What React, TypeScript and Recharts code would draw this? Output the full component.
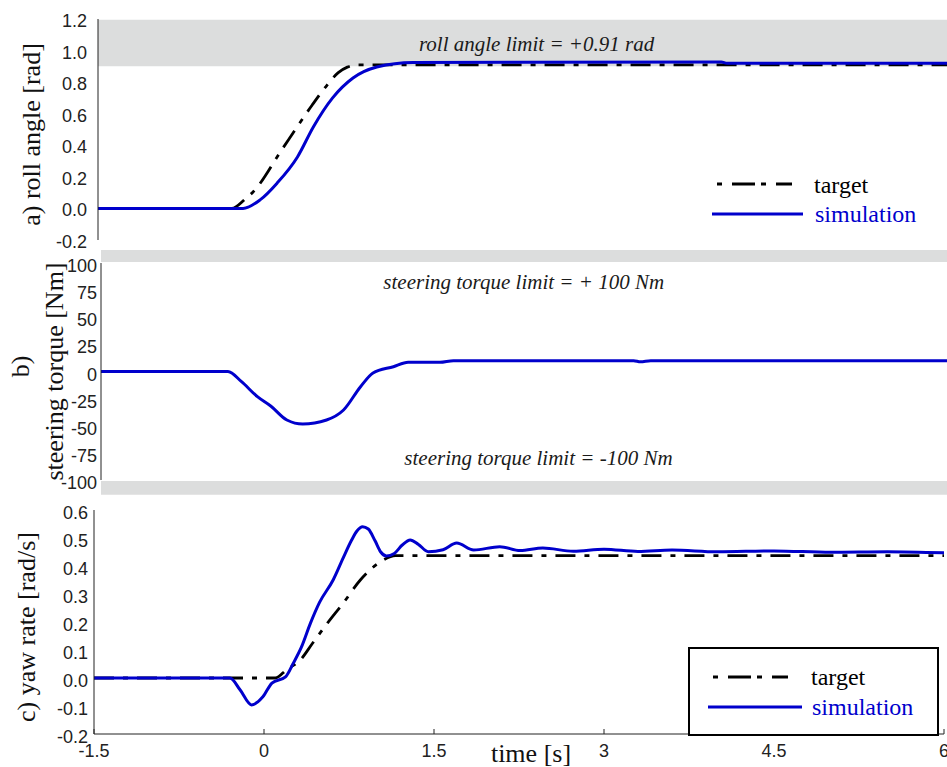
import { LineChart, Line, XAxis, YAxis, ReferenceArea, ReferenceDot } from 'recharts';

// time axis [s]
const timeTicks = [-1.5, 0, 1.5, 3, 4.5, 6];

// a) roll angle [rad]
const rollTicks = [-0.2, 0, 0.2, 0.4, 0.6, 0.8, 1.0, 1.2];
const rollTarget: [number, number][] = [
  [-1.5, 0], [-0.32, 0], [-0.2, 0.06], [-0.13, 0.106], [0.12, 0.37], [0.26, 0.52],
  [0.39, 0.655], [0.52, 0.78], [0.62, 0.86], [0.7, 0.895], [0.8, 0.91], [6, 0.91],
];
const rollSim: [number, number][] = [
  [-1.5, 0], [-0.22, 0], [-0.07, 0.054], [0.08, 0.16], [0.26, 0.326], [0.4, 0.516],
  [0.57, 0.7], [0.75, 0.826], [0.96, 0.896], [1.28, 0.925], [4.0, 0.928], [4.05, 0.92], [6, 0.92],
];

// b) steering torque [Nm]
const torqueTicks = [-100, -75, -50, -25, 0, 25, 50, 75, 100];
const torqueSim: [number, number][] = [
  [-1.5, 0], [-0.38, 0], [-0.26, -9.4], [-0.12, -23.2], [0.0, -32], [0.14, -44.7],
  [0.28, -48.4], [0.49, -44.7], [0.64, -35.5], [0.79, -14], [0.9, -1.4], [1.08, 4.4],
  [1.21, 8.5], [1.49, 8.5], [1.61, 10], [3.2, 10], [3.26, 9], [3.35, 10], [6, 10],
];

// c) yaw rate [rad/s]
const yawTicks = [-0.2, -0.1, 0, 0.1, 0.2, 0.3, 0.4, 0.5, 0.6];
const yawTarget: [number, number][] = [
  [-1.5, 0], [0.1, 0], [0.2, 0.03], [0.32, 0.064], [0.43, 0.125], [0.56, 0.196],
  [0.7, 0.268], [0.85, 0.35], [1.04, 0.418], [1.16, 0.437], [6, 0.437],
];
const yawSim: [number, number][] = [
  [-1.5, 0], [-0.3, 0], [-0.21, -0.043], [-0.11, -0.096], [-0.01, -0.067], [0.07, -0.018],
  [0.19, 0.004], [0.26, 0.054], [0.33, 0.11], [0.41, 0.196], [0.49, 0.27], [0.61, 0.35],
  [0.7, 0.43], [0.77, 0.49], [0.82, 0.525], [0.87, 0.54], [0.92, 0.532], [0.98, 0.49],
  [1.03, 0.45], [1.08, 0.436], [1.15, 0.445], [1.22, 0.475], [1.29, 0.493], [1.36, 0.478],
  [1.45, 0.451], [1.58, 0.458], [1.7, 0.482], [1.85, 0.457], [2.08, 0.469], [2.26, 0.455],
  [2.46, 0.464], [2.73, 0.453], [3.0, 0.46], [3.3, 0.452], [3.6, 0.457], [4.0, 0.451],
  [4.5, 0.454], [5.0, 0.449], [5.5, 0.451], [6, 0.447],
];

const rows = (pts: [number, number][]) => pts.map(([t, v]) => ({ t, v }));

const SANS = "'Liberation Sans', Arial, sans-serif";
const SERIF = "'Liberation Serif', 'Times New Roman', serif";
const INK = '#222';
const BLUE = '#0000CC';
const GREY = '#dcdddd';
const DASHDOT = '20 9 5 9';

const leftTick = (gap: number, dy: number, digits: number) => (p: any) => (
  <text x={p.x - gap} y={p.y + dy} textAnchor="end" fontFamily={SANS} fontSize={18} fill={INK}>
    {Number(p.payload.value).toFixed(digits)}
  </text>
);
const rightTick = (p: any) => <line x1={p.x} x2={p.x - 5} y1={p.y} y2={p.y} stroke={INK} />;
const topTick = (p: any) => <line x1={p.x} x2={p.x} y1={p.y} y2={p.y + 5} stroke={INK} />;
const bottomTick = (p: any) => <line x1={p.x} x2={p.x} y1={p.y} y2={p.y - 5} stroke={INK} />;
const bottomTickLabel = (p: any) => (
  <g>
    <line x1={p.x} x2={p.x} y1={p.y} y2={p.y - 5} stroke={INK} />
    <text x={p.x} y={p.y + 23} textAnchor="middle" fontFamily={SANS} fontSize={18} fill={INK}>
      {p.payload.value}
    </text>
  </g>
);

const annot = (text: string) => (p: any) => {
  const vb = p.viewBox || {};
  const x = (vb.x ?? 0) + (vb.width ?? 0) / 2;
  const y = (vb.y ?? 0) + (vb.height ?? 0) / 2;
  return (
    <text x={x} y={y} textAnchor="middle" fontFamily={SERIF} fontStyle="italic" fontSize={21} fill="#1a1a1a">
      {text}
    </text>
  );
};

const yTitle = (lines: { text: string; dx: number; dy: number }[]) => (p: any) => {
  const vb = p.viewBox || {};
  const cy = (vb.y ?? 0) + (vb.height ?? 0) / 2;
  return (
    <g>
      {lines.map((l) => (
        <text
          key={l.text}
          x={l.dx}
          y={cy + l.dy}
          transform={`rotate(-90 ${l.dx} ${cy + l.dy})`}
          textAnchor="middle"
          fontFamily={SERIF}
          fontSize={26}
          fill="#111"
        >
          {l.text}
        </text>
      ))}
    </g>
  );
};

function SeriesKey({ left, top, width, height, boxed, dash, solid, txt }: any) {
  return (
    <svg width={width} height={height} style={{ position: 'absolute', left, top }}>
      <rect
        x={boxed ? 1 : 0}
        y={boxed ? 1 : 0}
        width={boxed ? width - 2 : width}
        height={boxed ? height - 2 : height}
        fill="#fff"
        stroke={boxed ? '#000' : 'none'}
        strokeWidth={2}
      />
      <line x1={dash[0]} x2={dash[1]} y1={dash[2]} y2={dash[2]} stroke="#000" strokeWidth={3} strokeDasharray="5 10 23 6" />
      <line x1={solid[0]} x2={solid[1]} y1={solid[2]} y2={solid[2]} stroke={BLUE} strokeWidth={3} />
      <text x={txt[0]} y={txt[1]} fontFamily={SERIF} fontSize={24} fill="#000">target</text>
      <text x={txt[0] + 1} y={txt[2]} fontFamily={SERIF} fontSize={24} fill={BLUE}>simulation</text>
    </svg>
  );
}

export default function App() {
  return (
    <div style={{ position: 'absolute', left: 0, top: 0, width: 947, height: 767, overflow: 'hidden', background: '#fff' }}>
      {/* a) roll angle */}
      <div style={{ position: 'absolute', left: 0, top: 0 }}>
        <LineChart width={960} height={262} margin={{ top: 19, right: 12, bottom: 22, left: 0 }}>
          <XAxis dataKey="t" type="number" domain={[-1.5, 6]} ticks={timeTicks} interval={0} allowDataOverflow height={0} tickSize={0} tickMargin={0} tickLine={false} axisLine={{ stroke: INK }} tick={bottomTick} />
          <XAxis xAxisId="top" orientation="top" dataKey="t" type="number" domain={[-1.5, 6]} ticks={timeTicks} interval={0} allowDataOverflow height={0} tickSize={0} tickMargin={0} tickLine={false} axisLine={{ stroke: INK }} tick={topTick} />
          <YAxis type="number" domain={[-0.2, 1.2]} ticks={rollTicks} interval={0} allowDataOverflow width={98} tickSize={0} tickMargin={0} tickLine={false} axisLine={{ stroke: INK }} tick={leftTick(11, 8, 1)}
            label={{ content: yTitle([{ text: 'a) roll angle [rad]', dx: 40, dy: 5 }]) }} />
          <YAxis yAxisId="right" orientation="right" type="number" domain={[-0.2, 1.2]} ticks={rollTicks} interval={0} allowDataOverflow width={0} tickSize={0} tickMargin={0} tickLine={false} axisLine={{ stroke: INK }} tick={rightTick} />
          <ReferenceArea y1={0.9} y2={1.196} fill={GREY} fillOpacity={1} stroke="none" ifOverflow="visible" />
          <ReferenceDot x={2.37} y={1.0} r={0} fill="none" stroke="none" ifOverflow="visible" label={annot('roll angle limit = +0.91 rad')} />
          <Line data={rows(rollTarget)} dataKey="v" type="monotone" stroke="#000" strokeWidth={2.8} strokeDasharray={DASHDOT} dot={false} isAnimationActive={false} />
          <Line data={rows(rollSim)} dataKey="v" type="monotone" stroke={BLUE} strokeWidth={3} dot={false} isAnimationActive={false} />
        </LineChart>
      </div>

      {/* b) steering torque */}
      <div style={{ position: 'absolute', left: 0, top: 250 }}>
        <LineChart width={960} height={250} margin={{ top: 13, right: 9, bottom: 20, left: 0 }}>
          <XAxis dataKey="t" type="number" domain={[-1.5, 6]} ticks={timeTicks} interval={0} allowDataOverflow height={0} tickSize={0} tickMargin={0} tickLine={false} axisLine={{ stroke: INK }} tick={bottomTick} />
          <XAxis xAxisId="top" orientation="top" dataKey="t" type="number" domain={[-1.5, 6]} ticks={timeTicks} interval={0} allowDataOverflow height={0} tickSize={0} tickMargin={0} tickLine={false} axisLine={{ stroke: INK }} tick={topTick} />
          <YAxis type="number" domain={[-100, 100]} ticks={torqueTicks} interval={0} allowDataOverflow width={101} tickSize={0} tickMargin={0} tickLine={false} axisLine={{ stroke: INK }} tick={leftTick(4, 9, 0)}
            label={{ content: yTitle([{ text: 'b)', dx: 29, dy: -5 }, { text: 'steering torque [Nm]', dx: 63, dy: 0 }]) }} />
          <YAxis yAxisId="right" orientation="right" type="number" domain={[-100, 100]} ticks={torqueTicks} interval={0} allowDataOverflow width={0} tickSize={0} tickMargin={0} tickLine={false} axisLine={{ stroke: INK }} tick={rightTick} />
          <ReferenceArea y1={101} y2={112} fill={GREY} fillOpacity={1} stroke="none" ifOverflow="visible" />
          <ReferenceArea y1={-113.5} y2={-101} fill={GREY} fillOpacity={1} stroke="none" ifOverflow="visible" />
          <ReferenceDot x={2.23} y={76} r={0} fill="none" stroke="none" ifOverflow="visible" label={annot('steering torque limit = + 100 Nm')} />
          <ReferenceDot x={2.36} y={-86.2} r={0} fill="none" stroke="none" ifOverflow="visible" label={annot('steering torque limit = -100 Nm')} />
          <Line data={rows(torqueSim)} dataKey="v" type="monotone" stroke={BLUE} strokeWidth={3} dot={false} isAnimationActive={false} />
        </LineChart>
      </div>

      {/* c) yaw rate */}
      <div style={{ position: 'absolute', left: 0, top: 495 }}>
        <LineChart width={960} height={272} margin={{ top: 15, right: 16, bottom: 0, left: 0 }}>
          <XAxis dataKey="t" type="number" domain={[-1.5, 6]} ticks={timeTicks} interval={0} allowDataOverflow height={33} tickSize={0} tickMargin={0} tickLine={false} axisLine={{ stroke: INK }} tick={bottomTickLabel}
            label={{
              content: (p: any) => {
                const vb = p.viewBox || {};
                return (
                  <text x={(vb.x ?? 0) + 437} y={(vb.y ?? 0) + 28} textAnchor="middle" fontFamily={SERIF} fontSize={26} fill="#111">
                    time [s]
                  </text>
                );
              },
            }} />
          <XAxis xAxisId="top" orientation="top" dataKey="t" type="number" domain={[-1.5, 6]} ticks={timeTicks} interval={0} allowDataOverflow height={0} tickSize={0} tickMargin={0} tickLine={false} axisLine={{ stroke: INK }} tick={topTick} />
          <YAxis type="number" domain={[-0.2, 0.6]} ticks={yawTicks} interval={0} allowDataOverflow width={94} tickSize={0} tickMargin={0} tickLine={false} axisLine={{ stroke: INK }} tick={leftTick(6, 9, 1)}
            label={{ content: yTitle([{ text: 'c) yaw rate [rad/s]', dx: 35, dy: 5 }]) }} />
          <YAxis yAxisId="right" orientation="right" type="number" domain={[-0.2, 0.6]} ticks={yawTicks} interval={0} allowDataOverflow width={0} tickSize={0} tickMargin={0} tickLine={false} axisLine={{ stroke: INK }} tick={rightTick} />
          <Line data={rows(yawTarget)} dataKey="v" type="monotone" stroke="#000" strokeWidth={2.8} strokeDasharray={DASHDOT} dot={false} isAnimationActive={false} />
          <Line data={rows(yawSim)} dataKey="v" type="monotone" stroke={BLUE} strokeWidth={3} dot={false} isAnimationActive={false} />
        </LineChart>
      </div>

      <SeriesKey left={692} top={160} width={237} height={84} boxed={false} dash={[25, 100, 24]} solid={[20, 111, 54]} txt={[122, 33, 62]} />
      <SeriesKey left={688} top={647} width={251} height={89} boxed dash={[25, 100, 30]} solid={[20, 114, 60]} txt={[123, 38, 68]} />
    </div>
  );
}
